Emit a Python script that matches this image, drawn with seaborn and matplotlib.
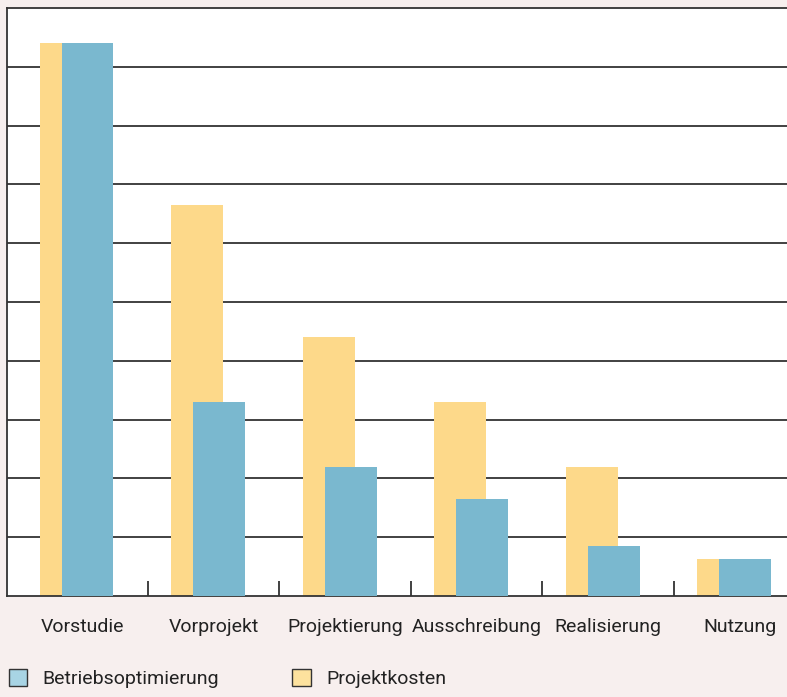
import numpy as np
import pandas as pd
import matplotlib.pyplot as plt
import seaborn as sns
from matplotlib.patches import Patch
from matplotlib.ticker import FixedLocator

phasen = ['Vorstudie', 'Vorprojekt', 'Projektierung', 'Ausschreibung', 'Realisierung', 'Nutzung']
projektkosten = [9.4, 6.65, 4.4, 3.3, 2.2, 0.63]
betriebsoptimierung = [9.4, 3.3, 2.2, 1.65, 0.85, 0.63]

gelb = '#fdd98a'
blau = '#7ab8cf'

sns.set_style('white')
plt.rcParams['font.family'] = ['Roboto', 'DejaVu Sans']

pos = np.arange(len(phasen))
df_gelb = pd.DataFrame({'x': pos - 0.125, 'wert': projektkosten})
df_blau = pd.DataFrame({'x': pos + 0.042, 'wert': betriebsoptimierung})

fig = plt.figure(figsize=(7.87, 6.97), dpi=100)
fig.patch.set_facecolor('#f7efee')
ax = fig.add_axes([7 / 787, (697 - 596) / 697, 1 - 7 / 787, (596 - 8) / 697])
ax.set_facecolor('white')

sns.barplot(data=df_gelb, x='x', y='wert', native_scale=True, width=0.395,
            color=gelb, saturation=1, linewidth=0, ax=ax, zorder=2)
sns.barplot(data=df_blau, x='x', y='wert', native_scale=True, width=0.395,
            color=blau, saturation=1, linewidth=0, ax=ax, zorder=3)

ax.set_ylim(0, 10)
ax.set_xlim(-0.57, 5.36)
ax.set_yticks(np.arange(1, 10))
ax.set_yticklabels([])
ax.yaxis.grid(True, color='#333333', linewidth=1.3, zorder=0)
ax.set_axisbelow(True)
ax.tick_params(axis='y', length=0)

ax.set_xticks(pos)
ax.set_xticklabels(phasen, fontsize=14, color='#222222')
ax.tick_params(axis='x', which='major', length=0, pad=16)
ax.xaxis.set_minor_locator(FixedLocator(pos[:-1] + 0.5))
ax.tick_params(axis='x', which='minor', bottom=True, direction='in', length=11,
               width=1.3, color='#333333')
ax.set_xlabel('')
ax.set_ylabel('')

for s in ['left', 'top', 'bottom']:
    ax.spines[s].set_visible(True)
    ax.spines[s].set_color('#333333')
    ax.spines[s].set_linewidth(1.3)
ax.spines['right'].set_visible(False)

handles = [Patch(facecolor='#a8d4e4', edgecolor='#333333', linewidth=1.0, label='Betriebsoptimierung'),
           Patch(facecolor='#fde29e', edgecolor='#333333', linewidth=1.0, label='Projektkosten')]
fig.legend(handles=handles, loc='lower left', bbox_to_anchor=(-0.011, -0.012), ncol=2,
           frameon=False, fontsize=14, handlelength=0.95, handleheight=0.95,
           handletextpad=0.8, columnspacing=3.75, labelcolor='#222222')

fig.savefig('out.png', dpi=100, facecolor=fig.get_facecolor())
